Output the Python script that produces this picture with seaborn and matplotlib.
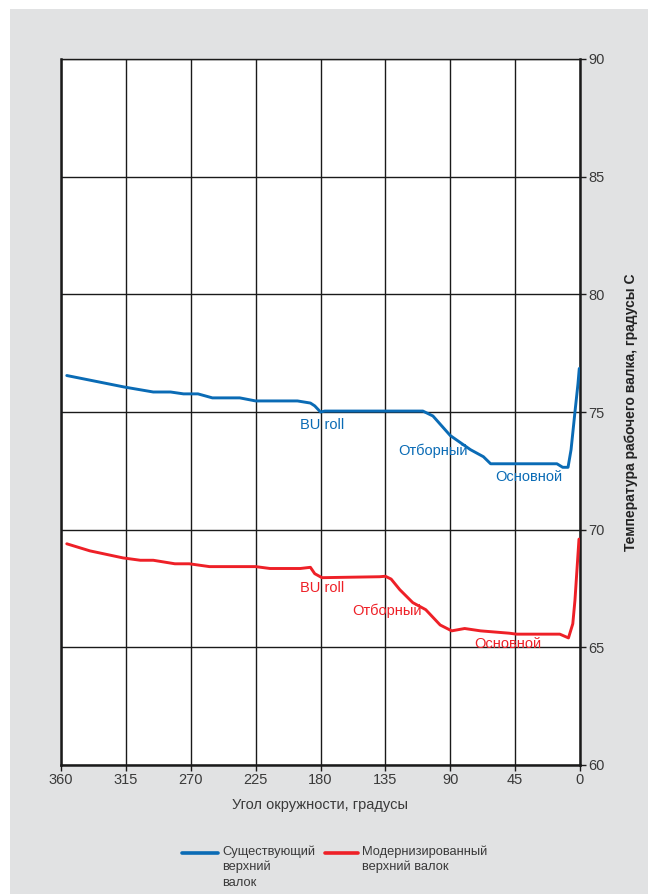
import matplotlib
matplotlib.use("Agg")
import matplotlib.pyplot as plt
from matplotlib.patches import Rectangle
from matplotlib.lines import Line2D
import seaborn as sns
import pandas as pd

sns.set_theme(style="white")
plt.rcParams["font.family"] = ["Liberation Sans", "DejaVu Sans"]

# Circumferential angle (degrees) and work-roll temperature (°C)
existing_angle = [356, 316, 296, 284, 275, 265, 255, 236, 225, 196, 187, 184, 180, 177,
                  140, 109, 102, 90, 76, 67, 62, 40, 16, 12, 8.3, 6.2, 3.5, 1.4, 0.5]
existing_temp = [76.55, 76.06, 75.85, 75.85, 75.77, 75.77, 75.6, 75.6, 75.47, 75.47, 75.38,
                 75.26, 75.0, 75.04, 75.04, 75.04, 74.83, 74.0, 73.4, 73.1, 72.8, 72.8,
                 72.8, 72.65, 72.65, 73.4, 75.0, 76.2, 76.85]

upgraded_angle = [356, 340, 317, 305, 296, 281, 271, 257, 225, 215, 194, 187, 184, 179,
                  139, 135, 131, 125, 116, 107, 97, 89, 80, 69, 49, 44, 14, 8, 5, 3.5, 0.7]
upgraded_temp = [69.4, 69.1, 68.8, 68.7, 68.7, 68.55, 68.55, 68.43, 68.43, 68.35, 68.35,
                 68.4, 68.13, 67.96, 68.0, 68.02, 67.9, 67.45, 66.9, 66.6, 65.95, 65.7,
                 65.8, 65.7, 65.6, 65.56, 65.56, 65.4, 66.0, 67.0, 69.6]

x_ticks = [360, 315, 270, 225, 180, 135, 90, 45, 0]
y_ticks = [60, 65, 70, 75, 80, 85, 90]

series_names = ["Существующий\nверхний\nвалок", "Модернизированный\nверхний валок"]
series_colors = ["#0a6bb5", "#ee2027"]

df = pd.concat([
    pd.DataFrame({"angle": existing_angle, "temp": existing_temp, "series": series_names[0]}),
    pd.DataFrame({"angle": upgraded_angle, "temp": upgraded_temp, "series": series_names[1]}),
])

fig = plt.figure(figsize=(6.48, 8.94), dpi=100)
fig.patch.set_facecolor("white")
fig.add_artist(Rectangle((10 / 648, 0), 1, 1 - 9 / 894, transform=fig.transFigure,
                         facecolor="#e1e2e3", edgecolor="none", zorder=0))

ax = fig.add_axes([61 / 648, 1 - 765 / 894, 519 / 648, 706 / 894])
ax.set_facecolor("white")

sns.lineplot(data=df, x="angle", y="temp", hue="series", palette=series_colors,
             linewidth=2.1, ax=ax, legend=False, sort=False, zorder=3)

ax.set_xlim(360, 0)
ax.set_ylim(60, 90)
ax.set_xticks(x_ticks)
ax.set_yticks(y_ticks)
ax.yaxis.tick_right()
ax.yaxis.set_label_position("right")
ax.grid(True, color="#1a1a1a", linewidth=1.0)
ax.set_axisbelow(True)
for side in ["left", "right", "bottom", "top"]:
    ax.spines[side].set_visible(True)
    ax.spines[side].set_color("#1a1a1a")
    ax.spines[side].set_linewidth(1.8)
ax.spines["top"].set_linewidth(1.0)
ax.tick_params(axis="both", which="both", direction="out", length=4, width=1,
               color="#1a1a1a", labelsize=10.5, labelcolor="#3a3a3a", pad=2)
ax.tick_params(axis="y", right=True, left=False)
ax.tick_params(axis="x", bottom=True)

ax.set_xlabel("Угол окружности, градусы", fontsize=10.5, color="#3a3a3a", labelpad=8)
ax.set_ylabel("Температура рабочего валка, градусы С", fontsize=10, fontweight="bold",
              color="#222222", labelpad=14)

# Zone annotations along each curve
for txt, x, y, c in [("BU roll", 194, 74.45, series_colors[0]),
                     ("Отборный", 126, 73.34, series_colors[0]),
                     ("Основной", 59, 72.24, series_colors[0]),
                     ("BU roll", 194, 67.54, series_colors[1]),
                     ("Отборный", 158, 66.56, series_colors[1]),
                     ("Основной", 73.5, 65.15, series_colors[1])]:
    ax.text(x, y, txt, color=c, fontsize=10.5, ha="left", va="center", zorder=4)

# Legend below the plot: line handle aligned with the first text line
W, H = 648, 894
for (x0, x1, tx), name, c in zip([(182, 218, 222), (325, 358, 362)], series_names, series_colors):
    fig.add_artist(Line2D([x0 / W, x1 / W], [1 - 853 / H, 1 - 853 / H],
                          transform=fig.transFigure, color=c, linewidth=2.6,
                          solid_capstyle="round"))
    fig.text(tx / W, 1 - 845 / H, name, fontsize=9.3, color="#3a3a3a",
             ha="left", va="top", linespacing=1.36)

fig.savefig("out.png", dpi=100)
